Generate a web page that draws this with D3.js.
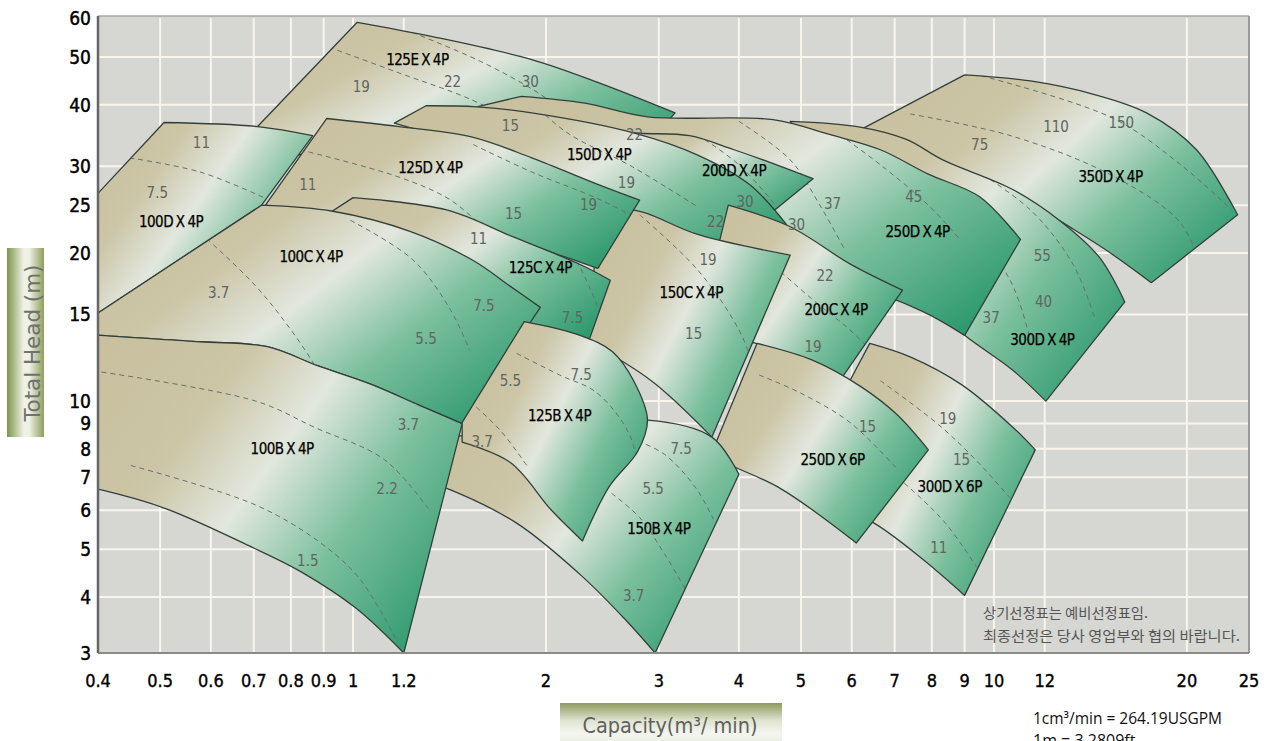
<!DOCTYPE html>
<html>
<head>
<meta charset="utf-8">
<script src="https://d3js.org/d3.v7.min.js"></script>
<style>
  body { margin: 0; background: #fff; }
  text { font-family: "Liberation Sans Narrow", "DejaVu Sans Condensed", "Arial Narrow", sans-serif; }
</style>
</head>
<body>
<svg id="chart" width="1270" height="741"></svg>
<script>
// ---- axis ticks ----
const xTicks = [0.4,0.5,0.6,0.7,0.8,0.9,1,1.2,2,3,4,5,6,7,8,9,10,12,20,25];
const yTicks = [3,4,5,6,7,8,9,10,15,20,25,30,40,50,60];

// ---- pump ranges, [capacity m3/min, head m]; top = max impeller, bot = min impeller ----
const e125Top = [[1.015,58.8],[1.33,55],[1.9,49.4],[2.42,44.3],[3.18,38.5]];
const e125Bot = [[0.61,29.4],[0.925,32.4],[1.42,34],[2.63,28.8]];
const e125Dash = [[[0.89,53.1],[1.18,46.4],[1.52,41.1],[1.82,36.5]], [[1.2,57],[1.58,49.0],[1.96,42.0],[2.21,37.3]]];

const d350Top = [[9.0,46],[11.4,44.7],[14.3,42],[17.3,38.5],[20.7,32.4],[24,23.9]];
const d350Bot = [[6.12,35.3],[8.53,30.2],[10.6,26.9],[12.7,23.2],[15.1,20.1],[17.6,17.4]];
const d350Dash = [[[7.4,38.3],[10.7,34.5],[15.3,28.7],[19.5,23.1],[21,18.9]], [[9.55,45.8],[15.3,37.6],[19.5,30.3],[23.5,24.45]]];

const d300Top = [[4.81,37],[6.12,36.1],[7.3,34],[8.32,30.9],[10.7,26.9],[12.7,23.2],[14.6,19.6],[16,15.9]];
const d300Bot = [[6.4,18.9],[7.94,15.7],[9,13.6],[10.7,11.55],[12.05,10]];
const d300Dash = [[[7.1,30.2],[8.85,23.9],[10.6,17.6],[11.4,13.3]], [[8.85,30.9],[11.4,24.45],[13.3,18.9],[14.4,14.6]]];

const d250Left = [[1.56,39.6]];
const d250Top = [[1.83,41.6],[2.3,40.3],[2.88,37.8],[4.52,37.3],[5.54,34.8],[6.65,32.4],[7.9,28.9],[9.5,26],[11,21.3]];
const d250Bot = [[2.42,21.3],[4.3,18.5],[6.0,17.2],[7.75,15.2],[9,13.6]];
const d250Dash = [[[4.0,37.0],[4.81,30.9],[5.35,25.0],[5.85,20.3]], [[5.74,34.8],[6.65,30.2],[7.9,25.0],[8.85,21.3]]];

const d200Top = [[2.42,35.6],[2.8,35.0],[3.35,34.6],[3.93,32.4],[4.58,30.2],[5.22,28.3]];
const d200Bot = [[2.42,30.9],[2.8,28.8],[3.45,26.2],[4.35,23.3]];
const d200Dash = [[[3.35,35.6],[4.0,30.2],[4.63,24.4]]];

const d150Top = [[1.3,39.8],[1.56,39.6],[1.9,38.5],[2.73,35.1],[3.45,31.6],[4.16,27.5],[4.75,22.8]];
const d150Bot = [[1.16,36.7],[1.57,32.4],[2.42,25.6],[3.45,21.3],[4.3,19.4]];
const d150Dash = [[[1.86,41.6],[2.15,35.2],[2.73,29.9],[3.45,24.8]], [[3.08,37.7],[3.45,33.5],[4.0,28.8]]];

const d125Top = [[0.91,37.5],[1.18,36.1],[1.53,34.4],[1.9,31.2],[2.42,27.5],[2.8,25.6]];
const d125Bot = [[0.73,25],[0.93,24],[1.18,23.9],[1.57,22.5],[2.1,19.8],[2.41,18.6]];
const d125Dash = [[[0.826,32.4],[1.18,28.5],[1.42,25.6],[1.64,21.8]], [[1.54,33.2],[1.9,29.2],[2.42,25.7],[2.9,22.8]]];

const d100Left = [[0.36,22.8]];
const d100Top = [[0.507,36.8],[0.71,36.1],[0.865,34.6]];
const d100Bot = [[0.36,13.8],[0.72,25]];
const d100Dash = [[[0.42,31.6],[0.577,29.2],[0.74,25.6]]];

const s300Left = [[5.96,11.0]];
const s300Top = [[6.4,13.1],[7.4,12.3],[8.9,10.8],[10.7,8.85],[11.6,7.96]];
const s300Bot = [[5.55,6.2],[6.5,5.65],[7.7,4.8],[9.0,4.03]];
const s300Dash = [[[6.65,11.0],[8.2,8.95],[9.5,7.45],[10.6,6.35]], [[6.4,7.8],[7.4,6.65],[8.4,5.65],[9.4,4.6]]];

const c200Top = [[3.85,25],[4.81,22.6],[5.96,19],[7.2,16.8]];
const c200Bot = [[3.45,13.9],[4.33,13.0],[5.75,11]];
const c200Dash = [[[4.43,19.36],[5.22,16.05],[5.96,13.95],[6.65,12.1]]];

const c150Top = [[2.42,25.0],[2.83,24.2],[3.45,21.8],[4.81,19.8]];
const c150Bot = [[2.33,13.2],[2.92,11],[3.63,8.45]];
const c150Dash = [[[2.8,23.9],[3.45,18.46],[4.0,13.95],[4.3,11.0]]];

const c125Top = [[1.0,25.9],[1.4,24.45],[1.77,21.6],[2.27,18.9],[2.52,17.6]];
const c125Bot = [[0.83,22.1],[1.18,16.05],[1.57,13.3],[1.96,13.0],[2.33,13.2]];
const c125Dash = [[[1.88,27.5],[2.1,22.3],[2.35,16.8],[2.51,13.3]]];

const b100Top = [[0.36,13.8],[0.405,13.6],[0.577,13.2],[0.735,12.9],[0.88,11.8],[1.07,10.8],[1.27,9.8],[1.48,9.0]];
const b100Bot = [[0.36,6.8],[0.405,6.6],[0.51,6.05],[0.7,5.03],[0.83,4.5],[1.01,3.78],[1.2,3.0]];
const b100Dash = [[[0.38,11.6],[0.705,10.0],[0.87,8.85],[1.12,7.6],[1.31,6.05]], [[0.45,7.4],[0.705,6.15],[0.89,5.15],[1.025,4.35],[1.17,3.2]]];

const c100Top = [[0.72,25],[0.93,24.3],[1.23,22.1],[1.54,19.3],[1.76,17.1],[1.96,15.5]];
const c100Bot = b100Top;
const c100Dash = [[[0.577,22.0],[0.7,17.3],[0.8,13.95],[0.88,11.55],[0.925,10.0]], [[0.99,23.3],[1.24,19.36],[1.42,15.3],[1.52,12.7]]];

const s250Top = [[4.27,13.1],[5.22,12.1],[6.2,10.7],[7.05,9.4],[7.9,7.96]];
const s250Bot = [[3.62,7.8],[3.85,7.45],[4.64,6.65],[6.1,5.15]];
const s250Dash = [[[4.3,11.3],[4.98,10.4],[5.96,9.05],[7.05,7.3]]];

const b150Top = [[1.24,8.4],[1.7,8.6],[2.3,8.9],[2.88,9.15],[3.63,8.45],[4.0,7.1]];
const b150Bot = [[1.24,7.0],[1.42,6.6],[1.8,5.65],[2.28,4.4],[2.67,3.54],[2.96,3.0]];
const b150Dash = [[[2.78,8.3],[3.06,7.8],[3.43,6.65],[3.65,5.75]], [[2.53,6.5],[2.8,5.8],[3.06,4.9],[3.3,4.15]]];

const b125Left = [[1.48,9.05]];
const b125Top = [[1.85,14.5],[2.26,13.6],[2.54,12.6],[2.74,11],[2.88,9.15],[2.78,7.9],[2.51,6.7],[2.28,5.2]];
const b125Bot = [[1.48,8.25],[1.76,7.5],[2.04,6.0],[2.28,5.2]];
const b125Dash = [[[1.8,12.5],[2.1,11.3],[2.4,10.4],[2.7,8.55],[2.8,6.97]], [[1.52,10.0],[1.7,8.7],[1.88,7.3]]];

// ---- labels [text, capacity, head] ----
const modelLabels = [
  ["125E X 4P",1.26,49.4],["100D X 4P",0.52,23.1],["125D X 4P",1.32,29.8],["150D X 4P",2.42,31.6],
  ["200D X 4P",3.93,29.4],["250D X 4P",7.6,22.1],["350D X 4P",15.2,28.6],["100C X 4P",0.86,19.6],
  ["125C X 4P",1.96,18.7],["150C X 4P",3.37,16.6],["200C X 4P",5.67,15.3],["300D X 4P",11.9,13.3],
  ["100B X 4P",0.775,8.0],["125B X 4P",2.1,9.35],["150B X 4P",3.0,5.5],["250D X 6P",5.6,7.6],["300D X 6P",8.53,6.7]
];
const powerLabels = [
  ["19",1.03,43.6],["22",1.43,44.6],["30",1.89,44.6],
  ["11",0.58,33.5],["7.5",0.495,26.5],
  ["11",0.85,27.5],["15",1.78,24.0],["19",2.33,25.0],
  ["15",1.76,36.3],["22",2.75,34.8],["19",2.67,27.8],
  ["30",4.09,25.4],["22",3.68,23.1],
  ["37",5.6,25.2],["45",7.5,26.0],["30",4.92,22.8],
  ["75",9.5,33.2],["110",12.5,36.1],["150",15.8,36.8],
  ["55",11.9,19.7],["40",11.95,15.95],["37",9.9,14.8],
  ["3.7",0.617,16.6],["7.5",1.6,15.6],["5.5",1.3,13.4],
  ["11",1.57,21.4],["7.5",2.2,14.75],
  ["19",3.58,19.4],["15",3.4,13.7],
  ["22",5.45,18.0],["19",5.22,12.9],
  ["3.7",1.22,8.95],["2.2",1.13,6.65],["1.5",0.85,4.75],
  ["5.5",1.76,11.0],["7.5",2.27,11.3],["3.7",1.59,8.25],
  ["7.5",3.25,8.0],["5.5",2.94,6.65],["3.7",2.74,4.02],
  ["15",6.35,8.85],
  ["19",8.47,9.2],["15",8.9,7.6],["11",8.2,5.03]
];

// back to front
const regions = [
  {id:"e125", top:e125Top, bot:e125Bot, dash:e125Dash},
  {id:"d350", top:d350Top, bot:d350Bot, dash:d350Dash},
  {id:"d300", top:d300Top, bot:d300Bot, dash:d300Dash},
  {id:"d250", top:d250Top, bot:d250Bot, left:d250Left, dash:d250Dash},
  {id:"d200", top:d200Top, bot:d200Bot, dash:d200Dash},
  {id:"d150", top:d150Top, bot:d150Bot, dash:d150Dash},
  {id:"s300", top:s300Top, bot:s300Bot, left:s300Left, dash:s300Dash},
  {id:"c200", top:c200Top, bot:c200Bot, dash:c200Dash},
  {id:"c150", top:c150Top, bot:c150Bot, dash:c150Dash},
  {id:"d125", top:d125Top, bot:d125Bot, dash:d125Dash},
  {id:"d100", top:d100Top, bot:d100Bot, left:d100Left, dash:d100Dash},
  {id:"c125", top:c125Top, bot:c125Bot, dash:c125Dash},
  {id:"c100", top:c100Top, bot:c100Bot, dash:c100Dash},
  {id:"s250", top:s250Top, bot:s250Bot, dash:s250Dash},
  {id:"b150", top:b150Top, bot:b150Bot, dash:b150Dash},
  {id:"b100", top:b100Top, bot:b100Bot, dash:b100Dash},
  {id:"b125", top:b125Top, bot:b125Bot, left:b125Left, dash:b125Dash}
];

const x = d3.scaleLog().domain([0.4, 25]).range([98, 1249]);
const y = d3.scaleLog().domain([3, 4, 60]).range([653, 597, 18]);

const svg = d3.select("#chart");
const defs = svg.append("defs");

const grad = defs.append("linearGradient").attr("id", "pumpFill")
  .attr("x1", 0).attr("y1", 0.2).attr("x2", 1).attr("y2", 0.8);
[[0, "#c8c09e"], [0.27, "#ccc5a6"], [0.47, "#e2e7de"], [0.7, "#7cc09e"], [1, "#2f9a6e"]]
  .forEach(s => grad.append("stop").attr("offset", s[0]).attr("stop-color", s[1]));

const yBox = defs.append("linearGradient").attr("id", "yBox").attr("x1", 0).attr("x2", 1).attr("y1", 0).attr("y2", 0);
[[0, "#7b9449"], [0.45, "#eef1e4"], [0.6, "#eef1e4"], [1, "#8d9e5c"]]
  .forEach(s => yBox.append("stop").attr("offset", s[0]).attr("stop-color", s[1]));
const xBox = defs.append("linearGradient").attr("id", "xBox").attr("x1", 0).attr("x2", 0).attr("y1", 0).attr("y2", 1);
[[0, "#8e9a5e"], [0.35, "#dfe4d0"], [0.6, "#f4f6ef"], [1, "#e2e6d6"]]
  .forEach(s => xBox.append("stop").attr("offset", s[0]).attr("stop-color", s[1]));

defs.append("clipPath").attr("id", "plotClip").append("rect")
  .attr("x", x(0.4)).attr("y", y(60) - 2).attr("width", x(25) - x(0.4)).attr("height", y(3) - y(60) + 2);

// plot background + grid
svg.append("rect").attr("x", x(0.4)).attr("y", y(60) - 2)
  .attr("width", x(25) - x(0.4)).attr("height", y(3) - y(60) + 2).attr("fill", "#d6d7d3");
svg.append("g").selectAll("line").data(xTicks.slice(1, -1)).join("line")
  .attr("x1", d => x(d)).attr("x2", d => x(d)).attr("y1", y(60)).attr("y2", y(3))
  .attr("stroke", "#f7f5ec").attr("stroke-width", 2);
svg.append("g").selectAll("line").data(yTicks.slice(1, -1)).join("line")
  .attr("y1", d => y(d)).attr("y2", d => y(d)).attr("x1", x(0.4)).attr("x2", x(25))
  .attr("stroke", "#f7f5ec").attr("stroke-width", 2);

const line = d3.line().x(d => x(d[0])).y(d => y(d[1])).curve(d3.curveCatmullRom.alpha(0.5));
const pt = p => x(p[0]) + "," + y(p[1]);

function outline(r) {
  let s = "M" + pt(r.bot[0]);
  (r.left || []).forEach(p => { s += "L" + pt(p); });
  s += "L" + line(r.top).slice(1);
  s += "L" + line(r.bot.slice().reverse()).slice(1);
  return s + "Z";
}

const plot = svg.append("g").attr("clip-path", "url(#plotClip)");
regions.forEach(r => {
  const d = outline(r);
  defs.append("clipPath").attr("id", "clip-" + r.id).append("path").attr("d", d);
  const g = plot.append("g");
  g.append("path").attr("d", d).attr("fill", "url(#pumpFill)");
  g.append("g").attr("clip-path", "url(#clip-" + r.id + ")")
    .selectAll("path").data(r.dash).join("path")
    .attr("d", line).attr("fill", "none")
    .attr("stroke", "#66716a").attr("stroke-width", 1).attr("stroke-dasharray", "5,4");
  g.append("path").attr("d", d).attr("fill", "none")
    .attr("stroke", "#33403a").attr("stroke-width", 1.3).attr("stroke-linejoin", "round");
});

// frame
svg.append("line").attr("x1", x(0.4)).attr("x2", x(25)).attr("y1", y(60) - 2).attr("y2", y(60) - 2).attr("stroke", "#a8a9a6").attr("stroke-width", 1.5);
svg.append("line").attr("x1", x(25)).attr("x2", x(25)).attr("y1", y(60) - 2).attr("y2", y(3)).attr("stroke", "#9a9b98").attr("stroke-width", 2);
svg.append("line").attr("x1", x(0.4)).attr("x2", x(25)).attr("y1", y(3)).attr("y2", y(3)).attr("stroke", "#8a8b88").attr("stroke-width", 2);
svg.append("line").attr("x1", x(0.4)).attr("x2", x(0.4)).attr("y1", y(60) - 2).attr("y2", y(3)).attr("stroke", "#666").attr("stroke-width", 2.5);

// labels
svg.append("g").selectAll("text").data(powerLabels).join("text")
  .attr("x", d => x(d[1])).attr("y", d => y(d[2])).attr("dy", "0.35em")
  .attr("text-anchor", "middle").attr("font-size", 15).attr("fill", "#5f6660")
  .text(d => d[0]);
svg.append("g").selectAll("text").data(modelLabels).join("text")
  .attr("x", d => x(d[1])).attr("y", d => y(d[2])).attr("dy", "0.35em")
  .attr("text-anchor", "middle").attr("font-size", 15).attr("fill", "#000")
  .attr("letter-spacing", -0.5).attr("word-spacing", -1)
  .attr("stroke", "#000").attr("stroke-width", 0.25)
  .text(d => d[0]);

// tick labels
svg.append("g").selectAll("text").data(xTicks).join("text")
  .attr("x", d => x(d)).attr("y", 687).attr("text-anchor", "middle")
  .attr("font-size", 18).attr("fill", "#000").attr("stroke", "#000").attr("stroke-width", 0.35)
  .text(d => d);
svg.append("g").selectAll("text").data(yTicks).join("text")
  .attr("x", 91).attr("y", d => y(d)).attr("dy", "0.36em").attr("text-anchor", "end")
  .attr("font-size", 19).attr("fill", "#000").attr("stroke", "#000").attr("stroke-width", 0.45)
  .text(d => d);

// axis titles
svg.append("rect").attr("x", 7).attr("y", 248).attr("width", 37).attr("height", 189).attr("fill", "url(#yBox)");
svg.append("text").attr("transform", "translate(40,343) rotate(-90)").attr("text-anchor", "middle")
  .attr("font-size", 21).attr("fill", "#707070").attr("textLength", 157).attr("lengthAdjust", "spacingAndGlyphs")
  .text("Total Head (m)");
svg.append("rect").attr("x", 560).attr("y", 703).attr("width", 222).attr("height", 50).attr("fill", "url(#xBox)");
svg.append("text").attr("x", 670).attr("y", 733).attr("text-anchor", "middle")
  .attr("font-size", 22).attr("fill", "#606060").attr("textLength", 175).attr("lengthAdjust", "spacingAndGlyphs")
  .text("Capacity(m³/ min)");

// notes
const noteFont = '"Noto Sans CJK KR", sans-serif';
svg.append("text").attr("x", 983).attr("y", 618).attr("font-size", 14).attr("fill", "#555")
  .style("font-family", noteFont).attr("textLength", 165).attr("lengthAdjust", "spacingAndGlyphs")
  .text("상기선정표는 예비선정표임.");
svg.append("text").attr("x", 983).attr("y", 641).attr("font-size", 14).attr("fill", "#555")
  .style("font-family", noteFont).attr("textLength", 257).attr("lengthAdjust", "spacingAndGlyphs")
  .text("최종선정은 당사 영업부와 협의 바랍니다.");
svg.append("text").attr("x", 1033).attr("y", 724).attr("font-size", 16).attr("fill", "#111")
  .style("font-family", '"Open Sans", sans-serif').attr("textLength", 189).attr("lengthAdjust", "spacingAndGlyphs")
  .text("1cm³/min = 264.19USGPM");
svg.append("text").attr("x", 1033).attr("y", 746).attr("font-size", 16).attr("fill", "#111")
  .style("font-family", '"Open Sans", sans-serif').text("1m = 3.2809ft");
</script>
</body>
</html>
